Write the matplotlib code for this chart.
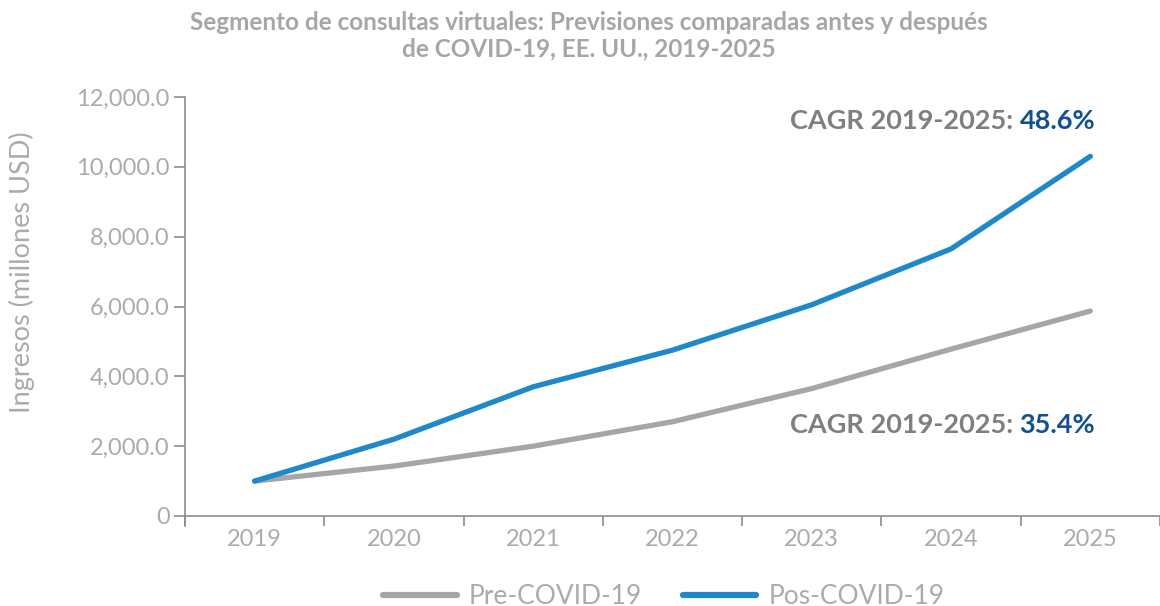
import numpy as np
import matplotlib.pyplot as plt

# Data
years = ["2019", "2020", "2021", "2022", "2023", "2024", "2025"]
pre_covid = [1000, 1430, 2000, 2700, 3650, 4780, 5870]
pos_covid = [1000, 2200, 3700, 4750, 6050, 7650, 10300]
y_ticks = [0, 2000, 4000, 6000, 8000, 10000, 12000]
y_tick_labels = ["0", "2,000.0", "4,000.0", "6,000.0", "8,000.0", "10,000.0", "12,000.0"]

plt.rcParams['font.family'] = ['Lato', 'DejaVu Sans']

grey_line = '#a6a6a6'
blue_line = '#1e88c9'
axis_col = '#8c8c8c'
label_col = '#ababab'

fig = plt.figure(figsize=(11.6, 6.06), dpi=100)
ax = fig.add_axes([185 / 1160, 1 - 516 / 606, 1 - 185 / 1160, 419 / 606])

x = np.arange(len(years))
ax.plot(x, pre_covid, color=grey_line, lw=3.8, solid_capstyle='round', label='Pre-COVID-19')
ax.plot(x, pos_covid, color=blue_line, lw=3.8, solid_capstyle='round', label='Pos-COVID-19')

ax.set_xlim(-0.5, 6.46)
ax.set_ylim(0, 12000)

# x ticks at category boundaries, labels centered
ax.set_xticks(np.arange(-0.5, 7, 1.0))
ax.set_xticklabels([])
ax.set_xticks(x, minor=True)
ax.set_xticklabels(years, minor=True)
ax.tick_params(axis='x', which='major', length=7, width=1.2, color=axis_col, direction='out')
ax.tick_params(axis='x', which='minor', length=0, pad=9, labelsize=17, labelcolor=label_col)

ax.set_yticks(y_ticks)
ax.set_yticklabels(y_tick_labels)
ax.tick_params(axis='y', length=8, width=1.2, color=axis_col, labelsize=17, labelcolor=label_col, pad=3)

for s in ['top', 'right']:
    ax.spines[s].set_visible(False)
for s in ['left', 'bottom']:
    ax.spines[s].set_color(axis_col)
    ax.spines[s].set_linewidth(1.2)
ax.spines['left'].set_bounds(-300, 12000)

# y axis title
fig.text(22 / 1160, 1 - 272 / 606, 'Ingresos (millones USD)', rotation=90, ha='center', va='center',
         fontsize=19.5, color=label_col)

fig.text(0.508, 1 - 36 / 606, 'Segmento de consultas virtuales: Previsiones comparadas antes y después\nde COVID-19, EE. UU., 2019-2025',
         ha='center', va='center', fontsize=17.5, fontweight='bold', color='#a6a6a6', linespacing=1.18)

# CAGR annotations
for yv, val in [(11300, '48.6%'), (2600, '35.4%')]:
    t = ax.text(6.035, yv, val, ha='right', va='center', fontsize=19.5, fontweight='bold', color='#12508f')
    fig.canvas.draw()
    bb = t.get_window_extent()
    inv = ax.transData.inverted()
    x0 = inv.transform((bb.x0 - 6, bb.y0))[0]
    ax.text(x0, yv, 'CAGR 2019-2025:', ha='right', va='center', fontsize=19.5, fontweight='bold', color='#7f7f7f')

leg = fig.legend(loc='center', bbox_to_anchor=(0.572, 0.016), ncol=2, frameon=False,
                 fontsize=19, handlelength=2.8, columnspacing=1.55, handletextpad=0.45)
for t in leg.get_texts():
    t.set_color(label_col)
for h in leg.get_lines():
    h.set_linewidth(4.5)

fig.savefig('out.png', dpi=100)
